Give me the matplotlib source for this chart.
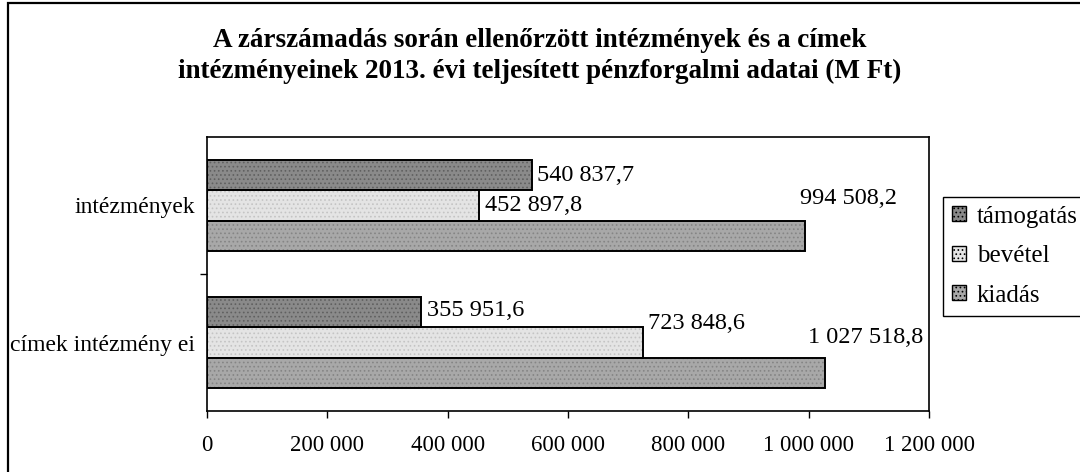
import matplotlib
matplotlib.use("Agg")
import matplotlib.pyplot as plt
from matplotlib.patches import Patch, Rectangle
from matplotlib.ticker import FuncFormatter, FixedLocator

# ── Data ──────────────────────────────────────────────────────────────────────
categories = ["intézmények", "címek intézmény ei"]
series     = ["támogatás", "bevétel", "kiadás"]
tamogatas  = [540837.7, 355951.6]
bevetel    = [452897.8, 723848.6]
kiadas     = [994508.2, 1027518.8]
x_ticks    = [0, 200000, 400000, 600000, 800000, 1000000, 1200000]

title = ("A zárszámadás során ellenőrzött intézmények és a címek\n"
         "intézményeinek 2013. évi teljesített pénzforgalmi adatai (M Ft)")

# ── Style ─────────────────────────────────────────────────────────────────────
FACE  = {"támogatás": "#8a8a8a", "bevétel": "#e4e4e4", "kiadás": "#a8a8a8"}
HATCH = {"támogatás": "#606060", "bevétel": "#c4c4c4", "kiadás": "#858585"}
OFFSET = {"támogatás": -0.22, "bevétel": 0.0, "kiadás": 0.22}
# label offsets in pixels (dx, dy) per series / category
LBL_OFF = {
    ("támogatás", 0): (5, 0),   ("támogatás", 1): (6, 2),
    ("bevétel", 0):   (6, 0),   ("bevétel", 1):   (5, 19),
    ("kiadás", 0):    (-5, 37), ("kiadás", 1):    (-17, 35),
}

plt.rcParams["font.family"] = ["Liberation Serif", "DejaVu Serif"]
plt.rcParams["hatch.linewidth"] = 0.7

W, H, DPI = 1080, 472, 100
fig = plt.figure(figsize=(W/DPI, H/DPI), dpi=DPI, facecolor="white")
ax = fig.add_axes([207/W, 1-411/H, (929-207)/W, (411-137)/H])

values = {"támogatás": tamogatas, "bevétel": bevetel, "kiadás": kiadas}
ypos = list(range(len(categories)))

for s in series:
    ys = [y + OFFSET[s] for y in ypos]
    ax.barh(ys, values[s], height=0.22, color=FACE[s], hatch="....",
            edgecolor=HATCH[s], linewidth=0, zorder=2)
    ax.barh(ys, values[s], height=0.22, fill=False,
            edgecolor="black", linewidth=1.4, zorder=3)
    for i, (y, v) in enumerate(zip(ys, values[s])):
        lab = f"{v:,.1f}".replace(",", " ").replace(".", ",")
        dx, dy = LBL_OFF[(s, i)]
        ax.annotate(lab, (v, y), xytext=(dx, dy), textcoords="offset pixels",
                    ha="left", va="center", fontsize=17.5, color="black", zorder=5)

ax.set_xlim(0, 1200000)
ax.set_ylim(1.5, -0.5)

ax.xaxis.set_major_locator(FixedLocator(x_ticks))
ax.xaxis.set_major_formatter(FuncFormatter(lambda v, p: f"{int(v):,}".replace(",", " ")))
ax.tick_params(axis="x", direction="out", length=5, width=1, pad=12, labelsize=16.5)

ax.yaxis.set_major_locator(FixedLocator([0.5]))
ax.yaxis.set_major_formatter(FuncFormatter(lambda v, p: ""))
ax.yaxis.set_minor_locator(FixedLocator(ypos))
ax.set_yticklabels(categories, minor=True)
ax.tick_params(axis="y", which="major", direction="out", length=5, width=1)
ax.tick_params(axis="y", which="minor", length=0, pad=8.5, labelsize=17)

for sp in ax.spines.values():
    sp.set_color("black")
    sp.set_linewidth(1.2)

# ── Title ─────────────────────────────────────────────────────────────────────
fig.text(0.5, 1-56/H, title, ha="center", va="center", fontsize=19.5,
         fontweight="bold", linespacing=1.3)

# ── Legend ────────────────────────────────────────────────────────────────────
handles = [Patch(facecolor=FACE[s], edgecolor="black", linewidth=1, hatch="....")
           for s in series]
leg = fig.legend(handles, series, loc="upper left",
                 bbox_to_anchor=(943/W, 1-197/H), frameon=True, fancybox=False,
                 edgecolor="black", framealpha=1, borderaxespad=0,
                 handlelength=0.55, handleheight=0.55, handletextpad=0.45,
                 labelspacing=0.7, borderpad=0.35, fontsize=18)
leg.get_frame().set_linewidth(1)

# ── Outer frame ───────────────────────────────────────────────────────────────
fig.add_artist(Rectangle((8/W, -0.1), 1.2, 1.1 - 3/H, transform=fig.transFigure,
                         fill=False, edgecolor="black", linewidth=1.6))

fig.savefig("out.png", dpi=DPI, facecolor="white")
